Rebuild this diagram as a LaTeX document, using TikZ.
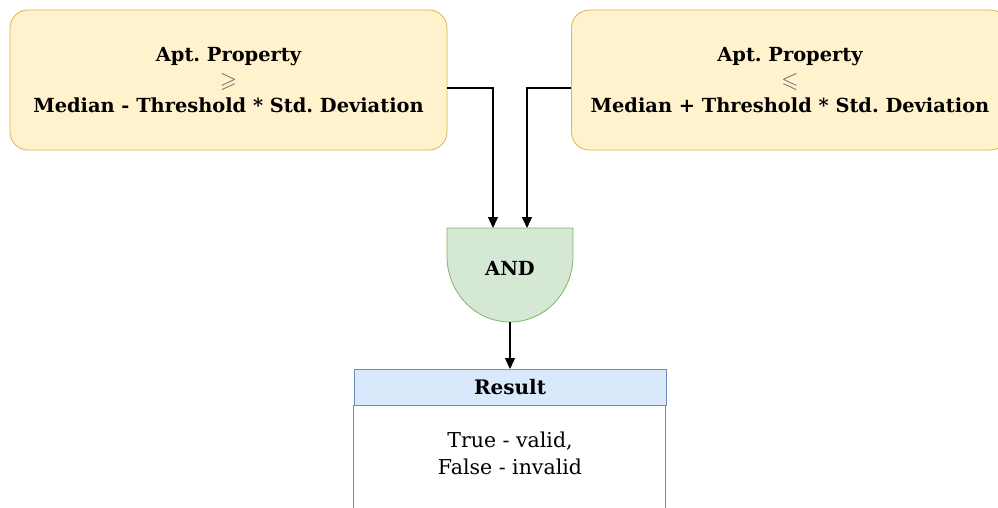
\documentclass[tikz,border=0pt]{standalone}
\usepackage{amssymb}
\usepackage{fontspec}
\setmainfont{DejaVu Serif}
\usetikzlibrary{arrows.meta}
\frenchspacing
\definecolor{yfill}{HTML}{FFF2CC}
\definecolor{ydraw}{HTML}{D6B656}
\definecolor{gfill}{HTML}{D5E8D4}
\definecolor{gdraw}{HTML}{82B366}
\definecolor{bfill}{HTML}{DAE8FC}
\definecolor{bdraw}{HTML}{6C8EBF}
\newcommand{\relsym}[1]{{\fontsize{22}{25.5}\selectfont\color{gray!80!black}$#1$}}
\tikzset{
  condbox/.style={draw=ydraw, fill=yfill, rounded corners=18pt, minimum width=437pt, minimum height=140pt, align=center, font=\bfseries\fontsize{19.4}{25.5}\selectfont, line width=0.8pt},
  conn/.style={draw=black, line width=1.1pt, -{Triangle[length=11pt,width=10pt]}},
}
\begin{document}
\frenchspacing
\begin{tikzpicture}[x=1pt,y=-1pt]
\useasboundingbox (0,0) rectangle (998,507);
\clip (0,0) rectangle (998,507);
\node[condbox] (lb) at (228.5,80) {Apt. Property\\[1pt]\relsym{\geqslant}\\[-1pt]Median - Threshold * Std. Deviation};
\node[condbox] (rb) at (790,80) {Apt. Property\\[1pt]\relsym{\leqslant}\\[-1pt]Median + Threshold * Std. Deviation};
% AND gate
\draw[draw=gdraw, fill=gfill, line width=0.8pt] (447,228) -- (573,228) -- (573,256) arc[start angle=0, end angle=180, x radius=63, y radius=66] -- cycle;
\node[font=\bfseries\fontsize{19.4}{22}\selectfont] (and) at (510,268) {AND};
\coordinate (in1) at (493,228);
\coordinate (in2) at (527,228);
\coordinate (out) at (510,322);
% Result
\node[draw=bdraw, fill=bfill, line width=0.8pt, minimum width=312pt, minimum height=36pt, anchor=north, font=\bfseries\fontsize{20}{22}\selectfont] (res) at (510,369) {Result};
\draw[draw=bdraw, fill=white, line width=0.8pt] (res.south west) rectangle ++(312,130);
\node[align=center, font=\fontsize{20.5}{27}\selectfont] (body) at (510,453.5) {True - valid,\\False - invalid};
\draw[conn] ([yshift=-8pt]lb.east) -| (in1);
\draw[conn] ([yshift=-8pt]rb.west) -| (in2);
\draw[conn] (out) -- (res.north);
\end{tikzpicture}
\end{document}
